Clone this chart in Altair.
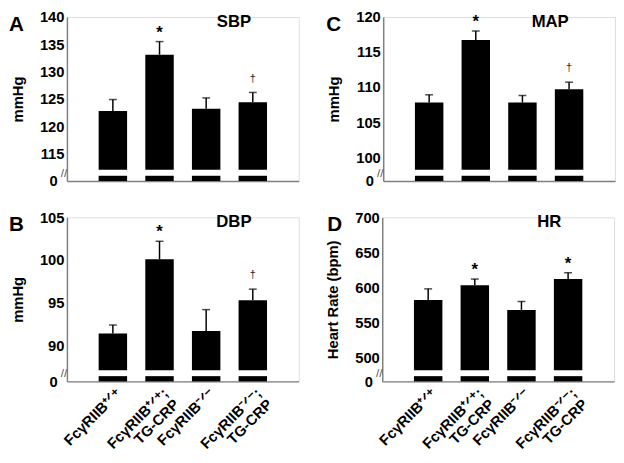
import altair as alt
import pandas as pd

FONT = "Liberation Sans"

groups = ["FcγRIIB⁺ᐟ⁺", "FcγRIIB⁺ᐟ⁺;|TG-CRP", "FcγRIIB⁻ᐟ⁻", "FcγRIIB⁻ᐟ⁻;|TG-CRP"]

sbp_mean = [122.8, 133.1, 123.2, 124.4]
sbp_err = [124.9, 135.5, 125.2, 126.2]
sbp_sig = ["", "*", "", "†"]
sbp_ticks = [115, 120, 125, 130, 135, 140]

map_mean = [107.8, 116.7, 107.8, 109.7]
map_err = [108.9, 118.0, 108.8, 110.7]
map_sig = ["", "*", "", "†"]
map_ticks = [100, 105, 110, 115, 120]

dbp_mean = [91.4, 100.1, 91.7, 95.3]
dbp_err = [92.4, 102.2, 94.2, 96.6]
dbp_sig = ["", "*", "", "†"]
dbp_ticks = [90, 95, 100, 105]

hr_mean = [582, 603, 568, 612]
hr_err = [598, 612, 580, 621]
hr_sig = ["", "*", "", "*"]
hr_ticks = [500, 550, 600, 650, 700]


def panel(letter, name, means, errs, sig, ticks, lo, ytitle, show_x, letter_dx):
    hi = ticks[-1]
    span = hi - lo
    low_top = lo + 0.032 * span
    base = lo + 0.068 * span
    df = pd.DataFrame({"group": groups, "mean": means, "err": errs, "sig": sig,
                       "lo": [lo] * 4, "low_top": [low_top] * 4, "base": [base] * 4})
    if show_x:
        xaxis = alt.Axis(title=None, labelAngle=-45, labelAlign="right", labelBaseline="middle",
                         labelExpr="split(datum.label, '|')", labelFont=FONT, labelFontSize=15,
                         labelFontWeight="bold", labelColor="black", labelPadding=9,
                         labelLineHeight=16, labelOverlap=False, labelBound=False,
                         labelOffset=6, ticks=False, domainColor="#808080", domainWidth=1.5)
    else:
        xaxis = alt.Axis(title=None, labels=False, ticks=False, domainColor="#808080", domainWidth=1.5)
    x = alt.X("group:N", sort=groups, axis=xaxis,
              scale=alt.Scale(paddingInner=0.39, paddingOuter=0.68))
    yscale = alt.Scale(domain=[lo, hi], nice=False, zero=False)
    first = ticks[0]
    yaxis = alt.Axis(values=[lo] + ticks, labelExpr=f"datum.value < {first} ? '0' : datum.label",
                     title=ytitle, titleFont=FONT, titleFontSize=15, titleFontWeight="bold",
                     titleColor="black", titlePadding=14, labelFont=FONT, labelFontSize=15,
                     labelFontWeight="bold", labelColor="black",
                     labelPadding={"condition": {"test": f"datum.value < {first}", "value": 10},
                                   "value": 3},
                     ticks=False,
                     labelOverlap=False, labelBound=False, labelSeparation=0, labelFlush=False,
                     grid=False, domainColor="#808080", domainWidth=1.5)

    def Y(f):
        return alt.Y(f, scale=yscale, axis=yaxis)

    base_c = alt.Chart(df)
    upper = base_c.mark_bar(color="black").encode(x=x, y=Y("base:Q"), y2="mean:Q")
    lower = base_c.mark_bar(color="black").encode(x=x, y=Y("lo:Q"), y2="low_top:Q")
    whisk = base_c.mark_rule(color="black", strokeWidth=1.5).encode(x=x, y=Y("mean:Q"), y2="err:Q")
    cap = base_c.mark_tick(color="black", thickness=1.5, size=8).encode(x=x, y=Y("err:Q"))
    stars = base_c.transform_filter("datum.sig == '*'").mark_text(
        font=FONT, fontSize=17, fontWeight="bold", baseline="alphabetic", dy=-4, color="black"
    ).encode(x=x, y=Y("err:Q"), text="sig:N")
    dags = base_c.transform_filter("datum.sig == '†'").mark_text(
        font=FONT, fontSize=11, baseline="alphabetic", dy=-11, color="#222222"
    ).encode(x=x, y=Y("err:Q"), text="sig:N")
    brk_df = pd.DataFrame({"b": [(low_top + base) / 2]})
    brk = alt.Chart(brk_df).mark_text(text="//", font=FONT, fontSize=12, color="#555555",
                                      align="center", baseline="middle").encode(
        x=alt.value(-3), y=Y("b:Q"))
    lab_df = pd.DataFrame({"t": [letter], "n": [name]})
    let = alt.Chart(lab_df).mark_text(font=FONT, fontSize=21, fontWeight="bold", align="left",
                                      baseline="top", color="black").encode(
        x=alt.value(letter_dx), y=alt.value(-3), text="t:N")
    nm = alt.Chart(lab_df).mark_text(font=FONT, fontSize=17, fontWeight="bold", align="center",
                                     baseline="top", color="black").encode(
        x=alt.value(170), y=alt.value(-3), text="n:N")
    return alt.layer(upper, lower, whisk, cap, stars, dags, brk, let, nm).properties(
        width=236, height=167)


A = panel("A", "SBP", sbp_mean, sbp_err, sbp_sig, sbp_ticks, 110.0, "mmHg", False, -59)
C = panel("C", "MAP", map_mean, map_err, map_sig, map_ticks, 96.6, "mmHg", False, -58)
B = panel("B", "DBP", dbp_mean, dbp_err, dbp_sig, dbp_ticks, 85.8, "mmHg", True, -59)
D = panel("D", "HR", hr_mean, hr_err, hr_sig, hr_ticks, 466.0, "Heart Rate (bpm)", True, -56)

chart = alt.vconcat(
    alt.hconcat(A, C, spacing=26),
    alt.hconcat(B, D, spacing=26),
    spacing=20,
).properties(padding={"left": 0, "top": -3, "right": 0, "bottom": 0}
).configure_view(strokeWidth=0).configure_axis(labelOverlap=False
).configure(background="white")

chart.save("out.html", embed_options={"renderer": "svg", "actions": False})
